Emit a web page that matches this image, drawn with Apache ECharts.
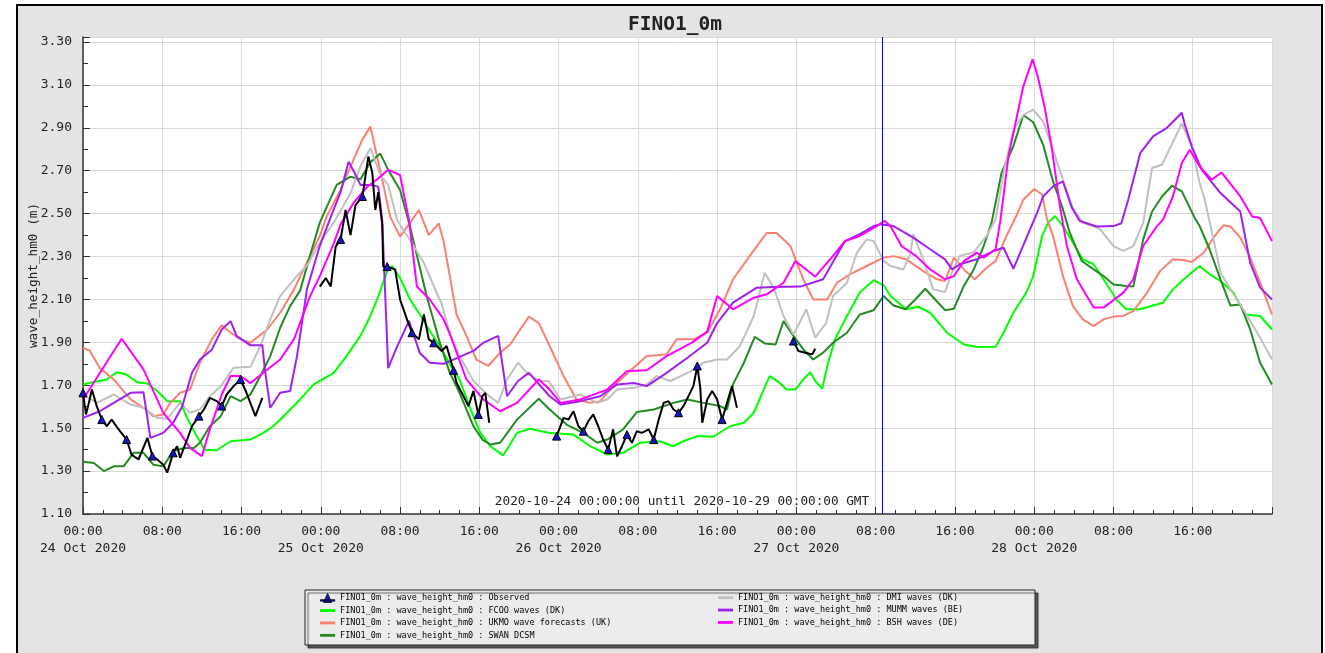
<!DOCTYPE html>
<html><head><meta charset="utf-8">
<script src="https://cdn.jsdelivr.net/npm/echarts@6/dist/echarts.min.js"></script>
<style>html,body{margin:0;padding:0;background:#fff}#c{width:1325px;height:653px}</style>
</head><body><div id="c"></div>
<script>
// ---- data: [hours since 2020-10-24 00:00 GMT, wave height (m)] ----
const dayLabels = ['24 Oct 2020','25 Oct 2020','26 Oct 2020','27 Oct 2020','28 Oct 2020','29 Oct 2020'];
const prefix = 'FINO1_0m : wave_height_hm0 : ';
const nowHour = 80.67;

const observed = [[0,1.665],[0.3,1.564],[0.6,1.62],[0.9,1.68],[1.4,1.60],[1.9,1.54],[2.4,1.51],[2.9,1.54],[3.6,1.494],[4.4,1.447],[4.9,1.377],[5.6,1.354],[6.5,1.455],[7,1.37],[7.5,1.354],[8.1,1.33],[8.5,1.293],[9.1,1.385],[9.5,1.416],[9.8,1.362],[10.5,1.447],[11,1.509],[11.7,1.556],[12.2,1.587],[12.8,1.641],[13.5,1.626],[14,1.603],[14.5,1.657],[15.2,1.696],[15.9,1.727],[16.5,1.665],[17.4,1.556],[18.1,1.641],
 [20,null],
 [23.9,2.16],[24.5,2.2],[25,2.16],[25.5,2.346],[26,2.38],[26.5,2.517],[27,2.40],[27.5,2.54],[28.2,2.58],[28.8,2.766],[29.2,2.69],[29.5,2.517],[29.8,2.6],[30.2,2.45],[30.3,2.253],[30.7,2.253],[31.5,2.24],[32,2.1],[32.7,2.007],[33.2,1.945],[33.9,1.914],[34.4,2.03],[34.9,1.914],[35.4,1.898],[36.2,1.86],[36.7,1.883],[37.4,1.77],[37.7,1.711],[38.4,1.649],[38.9,1.603],[39.4,1.673],[39.9,1.564],[40.3,1.649],[40.6,1.665],[41,1.525],
 [44,null],
 [47.8,1.463],[48.5,1.548],[49,1.54],[49.5,1.579],[50,1.509],[50.5,1.486],[51,1.533],[51.5,1.564],[52,1.509],[52.5,1.447],[53,1.40],[53.5,1.494],[53.9,1.369],[54.4,1.416],[54.9,1.47],[55.4,1.432],[55.9,1.486],[56.4,1.478],[57.1,1.494],[57.6,1.447],[58.1,1.54],[58.6,1.618],[59.1,1.626],[59.6,1.587],[60.1,1.572],[60.6,1.603],[61.1,1.649],[61.6,1.696],[62,1.79],[62.3,1.688],[62.5,1.525],[63,1.634],[63.5,1.673],[64,1.634],[64.5,1.54],[65,1.618],[65.5,1.696],[66,1.595],
 [69,null],
 [71.7,1.906],[72.2,1.86],[72.9,1.852],[73.6,1.844],[73.9,1.87]];
const observedMarkerHours = [0,1.9,4.4,7,9.1,11.7,14,15.9,26,28.2,30.7,33.2,35.4,37.4,39.9,47.8,50.5,53,54.9,57.6,60.1,62,64.5,71.7];

const fcoo = [[0,1.704],[1.1,1.715],[2.4,1.727],[3.4,1.761],[4.4,1.75],[5.4,1.715],[6.5,1.708],[7.5,1.673],[8.5,1.626],[9.8,1.626],[10.5,1.548],[11.3,1.478],[12.3,1.40],[13.5,1.397],[14.9,1.439],[16.9,1.447],[18.2,1.478],[19.2,1.509],[20.6,1.572],[21.9,1.634],[23.3,1.704],[25.3,1.758],[26.6,1.836],[28,1.93],[29,2.023],[29.8,2.113],[30.7,2.233],[31.2,2.256],[32,2.20],[33,2.10],[34,2.03],[35,1.953],[36,1.883],[37,1.80],[38,1.727],[39,1.603],[40.1,1.478],[41.1,1.416],[42.4,1.373],[43.8,1.478],[45.1,1.497],[47.1,1.478],[49.5,1.47],[51.2,1.416],[52.9,1.377],[54.5,1.385],[56.2,1.432],[58.2,1.439],[59.6,1.416],[60.6,1.439],[62,1.463],[63.6,1.46],[65.3,1.509],[66.7,1.525],[67.7,1.572],[68.7,1.68],[69.3,1.743],[70.2,1.715],[71,1.68],[71.9,1.68],[72.7,1.727],[73.4,1.761],[73.9,1.72],[74.6,1.684],[75.2,1.805],[75.9,1.914],[77.1,2.023],[78.4,2.132],[79.8,2.19],[80.8,2.166],[81.5,2.116],[83.1,2.054],[84.3,2.066],[85.5,2.038],[87.2,1.945],[88.9,1.89],[90.2,1.878],[92.1,1.88],[92.9,1.945],[93.9,2.038],[95.2,2.132],[95.9,2.209],[96.8,2.396],[97.4,2.458],[98.1,2.489],[98.9,2.442],[99.9,2.365],[100.9,2.287],[102,2.264],[103,2.194],[104.3,2.10],[105.3,2.054],[106.7,2.054],[108,2.072],[109,2.085],[110,2.147],[111.1,2.194],[112.7,2.256],[113.7,2.217],[114.8,2.186],[116.1,2.132],[117.3,2.03],[118.8,2.023],[120,1.96]];

const ukmo = [[0,1.875],[0.7,1.86],[1.7,1.78],[3.1,1.727],[4.8,1.634],[6.1,1.595],[7.1,1.556],[8.1,1.564],[8.8,1.618],[9.8,1.665],[10.8,1.68],[11.8,1.805],[13,1.914],[14,1.98],[14.9,1.945],[15.9,1.914],[16.9,1.898],[18.6,1.96],[19.9,2.038],[21.3,2.147],[22.6,2.272],[23.9,2.396],[24.6,2.487],[26,2.612],[27.3,2.752],[28.2,2.845],[29,2.906],[30,2.70],[31,2.486],[32,2.393],[33.2,2.47],[33.9,2.517],[34.9,2.40],[35.9,2.455],[36.4,2.37],[37.4,2.11],[37.7,2.03],[38.7,1.93],[39.7,1.82],[40.9,1.79],[42.1,1.852],[43.1,1.89],[45,2.02],[46,1.99],[47.1,1.883],[48.5,1.743],[49.8,1.634],[51.2,1.618],[52.2,1.626],[53.5,1.696],[55.2,1.766],[56.9,1.836],[58.9,1.844],[59.9,1.914],[61.6,1.914],[63,1.945],[64.3,2.054],[65.6,2.194],[67.3,2.303],[69,2.41],[70,2.41],[71.4,2.349],[72.7,2.194],[73.7,2.10],[75.1,2.10],[76.1,2.178],[77.4,2.217],[79.1,2.256],[80.8,2.295],[81.8,2.302],[83.1,2.287],[84.8,2.232],[86.2,2.194],[87,2.186],[87.9,2.295],[88.9,2.24],[90,2.194],[91.2,2.248],[92.1,2.279],[93.2,2.396],[94.2,2.49],[94.9,2.565],[96,2.615],[96.8,2.589],[97.3,2.472],[97.9,2.396],[98.9,2.209],[99.9,2.07],[100.9,2.007],[102,1.976],[103,2.007],[104,2.02],[105,2.023],[106,2.046],[107.4,2.132],[108.7,2.232],[110,2.287],[111.1,2.284],[111.9,2.275],[113.1,2.318],[114.1,2.388],[115.1,2.446],[115.8,2.44],[116.8,2.388],[117.8,2.295],[118.8,2.178],[120,2.03]];

const swan = [[0,1.343],[1.1,1.338],[2.1,1.30],[3.1,1.322],[4.1,1.322],[5.1,1.385],[6.1,1.385],[7.1,1.33],[8.1,1.322],[9.1,1.393],[10.2,1.408],[11.2,1.408],[11.8,1.432],[12.8,1.509],[13.9,1.556],[14.9,1.649],[15.9,1.626],[16.9,1.657],[17.9,1.743],[18.9,1.836],[19.9,1.968],[20.9,2.069],[21.9,2.14],[22.9,2.303],[23.9,2.458],[25.6,2.634],[27,2.672],[28,2.66],[29,2.74],[30,2.78],[30.8,2.704],[32,2.61],[33,2.44],[34.7,2.113],[35.4,2.0],[36,1.9],[37,1.76],[38,1.665],[39.4,1.51],[40.3,1.447],[41.1,1.424],[42.1,1.432],[43.8,1.54],[46,1.637],[47.1,1.587],[48.8,1.517],[50.5,1.478],[51.9,1.432],[52.9,1.447],[54.5,1.494],[55.9,1.575],[57.6,1.587],[59.6,1.618],[61,1.634],[62.6,1.618],[64.3,1.603],[65,1.587],[65.6,1.704],[66.7,1.805],[67.8,1.926],[68.8,1.895],[69.9,1.89],[70.7,1.999],[71.7,1.93],[72.7,1.867],[73.7,1.82],[74.7,1.852],[75.7,1.898],[77.1,1.945],[78.4,2.03],[79.8,2.05],[80.8,2.116],[81.8,2.072],[83,2.054],[84,2.10],[85,2.15],[86,2.10],[87,2.05],[87.9,2.057],[88.9,2.163],[89.9,2.24],[90.9,2.349],[91.7,2.458],[92.7,2.69],[93.9,2.814],[94.9,2.96],[95.9,2.926],[96.9,2.822],[97.9,2.65],[98.8,2.535],[99.6,2.41],[100.8,2.279],[102,2.24],[103,2.209],[104,2.17],[105.3,2.163],[106,2.16],[107,2.38],[107.9,2.51],[108.9,2.58],[109.9,2.63],[110.9,2.604],[112.2,2.48],[112.7,2.442],[113.7,2.334],[114.8,2.194],[115.8,2.072],[116.8,2.077],[117.8,1.96],[118.8,1.805],[120,1.704]];

const dmi = [[0,1.657],[1.4,1.618],[3.1,1.657],[4.8,1.61],[6.1,1.595],[7.5,1.548],[8.5,1.544],[9.8,1.618],[10.8,1.572],[11.8,1.587],[12.8,1.649],[13.9,1.696],[15.2,1.782],[16.9,1.786],[17.9,1.883],[18.9,2.007],[19.9,2.116],[21.3,2.194],[22.7,2.264],[23.9,2.365],[25.3,2.458],[27,2.596],[28,2.72],[29,2.805],[30,2.68],[30.8,2.634],[31.7,2.47],[33,2.377],[34.4,2.27],[35.7,2.13],[36.2,2.08],[37,1.945],[38,1.836],[39.4,1.72],[40.8,1.657],[41.9,1.618],[42.8,1.727],[43.9,1.805],[44.8,1.758],[46.1,1.72],[47,1.72],[48.2,1.634],[50.2,1.657],[51.9,1.618],[52.9,1.634],[53.9,1.68],[55.6,1.688],[56.9,1.704],[57.9,1.743],[59.3,1.72],[61,1.758],[62,1.78],[62.6,1.805],[64,1.82],[65,1.82],[66.3,1.883],[67.7,2.023],[68.8,2.225],[69.7,2.155],[70.7,2.023],[71.7,1.937],[73,2.054],[73.9,1.922],[75,1.99],[75.7,2.116],[77.1,2.178],[78.1,2.318],[79.1,2.38],[79.8,2.372],[80.8,2.28],[81.5,2.256],[82.8,2.24],[83.5,2.311],[83.8,2.404],[84.8,2.287],[85.8,2.147],[87,2.135],[87.7,2.225],[88.5,2.303],[89.9,2.32],[91.2,2.396],[92.1,2.474],[92.9,2.69],[93.9,2.891],[94.9,2.96],[95.9,2.985],[96.9,2.93],[97.9,2.798],[98.9,2.658],[99.9,2.526],[100.9,2.458],[102.6,2.43],[104,2.349],[105,2.326],[106,2.349],[107,2.458],[107.9,2.713],[108.9,2.728],[110.9,2.92],[111.9,2.814],[112.7,2.643],[113.2,2.567],[114.1,2.38],[114.8,2.225],[116.1,2.124],[117.1,2.054],[118.8,1.922],[120,1.82]];

const mumm = [[0,1.548],[1.7,1.579],[2.8,1.61],[4.8,1.665],[6.1,1.668],[6.8,1.455],[8.1,1.478],[9.1,1.525],[10,1.60],[11,1.758],[11.8,1.82],[13,1.866],[14,1.96],[14.9,1.999],[15.5,1.93],[16.9,1.886],[18.1,1.886],[18.4,1.758],[18.9,1.595],[19.9,1.665],[20.9,1.673],[21.6,1.836],[22.6,2.147],[23.9,2.35],[25.3,2.52],[26,2.6],[26.8,2.742],[27.3,2.70],[28,2.634],[29,2.634],[29.8,2.626],[30.2,2.47],[30.8,1.78],[31.7,1.88],[32.9,2.0],[34,1.85],[35,1.805],[36.4,1.80],[39.4,1.86],[40.4,1.898],[41.9,1.93],[42.8,1.649],[43.9,1.72],[45,1.758],[47.1,1.649],[48.2,1.61],[50.2,1.626],[52.2,1.649],[53.9,1.704],[55.6,1.711],[56.9,1.696],[58.9,1.758],[61,1.828],[63,1.898],[64,1.99],[65.6,2.085],[68,2.155],[69.7,2.158],[72.4,2.16],[74.7,2.194],[76.9,2.372],[78.4,2.404],[79.8,2.442],[80.45,2.45],[81.8,2.442],[83.8,2.388],[85.5,2.334],[87,2.287],[87.7,2.24],[88.5,2.264],[90.2,2.287],[91.9,2.326],[92.9,2.341],[93.9,2.243],[95.3,2.396],[96.3,2.505],[96.9,2.58],[97.9,2.627],[98.9,2.65],[99.8,2.527],[100.6,2.466],[102.3,2.44],[104,2.442],[104.8,2.455],[105.5,2.567],[106.7,2.782],[108,2.86],[109.4,2.9],[110.9,2.97],[111.2,2.915],[111.9,2.814],[112.9,2.705],[114.8,2.596],[116.8,2.51],[117.8,2.27],[118.8,2.155],[120,2.10]];

const bsh = [[0,1.634],[3.9,1.917],[6.1,1.774],[8.1,1.571],[9.8,1.478],[10.8,1.408],[12,1.37],[12.8,1.494],[14,1.657],[14.9,1.743],[15.9,1.743],[16.9,1.71],[18.2,1.758],[19.9,1.82],[21.3,1.915],[22.9,2.113],[23.9,2.209],[25.3,2.36],[26,2.45],[27.3,2.55],[28.7,2.626],[29.7,2.66],[30.8,2.704],[32,2.68],[32.9,2.47],[33.7,2.16],[35,2.10],[36.4,2.007],[37.1,1.93],[38.7,1.727],[40.4,1.634],[42.1,1.579],[43.8,1.618],[46,1.727],[47.1,1.68],[48.2,1.618],[50.2,1.634],[52.9,1.68],[54.9,1.766],[56.9,1.77],[58.9,1.836],[61.5,1.90],[63,1.95],[64,2.116],[65.6,2.054],[67.7,2.108],[69,2.124],[70.7,2.178],[71.9,2.279],[73.9,2.206],[75.7,2.303],[76.9,2.372],[78.4,2.396],[80.1,2.442],[80.9,2.466],[81.5,2.442],[82.6,2.349],[84.1,2.302],[85.5,2.24],[87,2.194],[87.9,2.209],[88.9,2.279],[90.2,2.318],[90.9,2.295],[92.1,2.334],[92.6,2.472],[93.4,2.767],[94.1,2.92],[94.9,3.093],[95.85,3.22],[96.4,3.132],[97.1,2.985],[97.8,2.798],[98.6,2.534],[99.3,2.349],[100.3,2.194],[102,2.062],[103,2.062],[105,2.132],[106,2.194],[107,2.349],[108.4,2.442],[109,2.472],[110,2.58],[110.9,2.736],[111.7,2.798],[112.7,2.72],[113.9,2.658],[114.9,2.692],[116.8,2.58],[118,2.487],[118.8,2.48],[120,2.372]];

// ---- chart ----
const mono = 'DejaVu Sans Mono';
const chart = echarts.init(document.getElementById('c'));
const markerSet = new Set(observedMarkerHours);
const line = (name, data, color) => ({
  name: prefix + name, type: 'line', data, symbol: 'none', showSymbol: false,
  lineStyle: {color, width: 2}, itemStyle: {color}, emphasis: {disabled: true}, animation: false
});
const lineIcon = 'path://M0,0 L16,0 L16,3 L0,3 Z';
const obsIcon = 'path://M0,7 L16,7 L16,8.6 L0,8.6 Z M8,0 L12.5,10 L3.5,10 Z';
const legendText = {fontFamily: mono, fontSize: 8.5, color: '#000', lineHeight: 9.3};

chart.setOption({
  backgroundColor: '#ffffff',
  animation: false,
  title: [
    {text: 'FINO1_0m', left: 670, top: 10, textAlign: 'center',
     textStyle: {fontFamily: mono, fontWeight: 'bold', fontSize: 19.5, color: '#222'}},
    {text: '2020-10-24 00:00:00 until 2020-10-29 00:00:00 GMT', left: 677, top: 490, textAlign: 'center',
     textStyle: {fontFamily: mono, fontWeight: 'normal', fontSize: 12.7, color: '#222'}}
  ],
  graphic: [
    {type: 'rect', z: -100, silent: true, shape: {x: 17, y: 5, width: 1305, height: 700},
     style: {fill: '#e4e4e4', stroke: '#000', lineWidth: 2}},
    {type: 'rect', z: -90, silent: true, shape: {x: 305, y: 590, width: 730, height: 55},
     style: {fill: '#ececec', stroke: '#222', lineWidth: 1, shadowColor: 'rgba(0,0,0,0.6)', shadowOffsetX: 3, shadowOffsetY: 3, shadowBlur: 1}}
  ],
  grid: {left: 83, right: 53, top: 37, bottom: 139, show: true, backgroundColor: '#ffffff', borderWidth: 0},
  legend: [
    {orient: 'vertical', left: 315, top: 588, itemWidth: 15, itemHeight: 9, itemGap: 3.1, selectedMode: false,
     textStyle: legendText,
     data: [
       {name: prefix + 'Observed', icon: obsIcon, itemStyle: {color: '#1414c8', borderColor: '#000', borderWidth: 0.8}},
       {name: prefix + 'FCOO waves (DK)', icon: lineIcon},
       {name: prefix + 'UKMO wave forecasts (UK)', icon: lineIcon},
       {name: prefix + 'SWAN DCSM', icon: lineIcon}]},
    {orient: 'vertical', left: 713, top: 588, itemWidth: 15, itemHeight: 9, itemGap: 3.1, selectedMode: false,
     textStyle: legendText,
     data: [
       {name: prefix + 'DMI waves (DK)', icon: lineIcon},
       {name: prefix + 'MUMM waves (BE)', icon: lineIcon},
       {name: prefix + 'BSH waves (DE)', icon: lineIcon}]}
  ],
  xAxis: {
    type: 'value', min: 0, max: 120, interval: 8,
    axisLine: {lineStyle: {color: '#333', width: 1.5}},
    axisTick: {inside: true, length: 7, lineStyle: {color: '#333'}},
    minorTick: {show: true, splitNumber: 4, length: 4, lineStyle: {color: '#333'}},
    splitLine: {show: true, lineStyle: {color: '#d9d9d9', width: 1}},
    axisLabel: {
      showMaxLabel: false, margin: 9, lineHeight: 17, fontFamily: mono, fontSize: 13, color: '#222',
      formatter: v => {
        const h = Math.round(v), hh = h % 24;
        const s = String(hh).padStart(2, '0') + ':00';
        return hh === 0 ? s + '\n' + dayLabels[h / 24] : s;
      }
    }
  },
  yAxis: {
    type: 'value', min: 1.1, max: 3.3233, interval: 0.2,
    name: 'wave_height_hm0 (m)', nameLocation: 'middle', nameRotate: 90, nameGap: 43, nameMoveOverlap: false,
    nameTextStyle: {fontFamily: mono, fontSize: 12.7, color: '#222'},
    axisLine: {show: true, lineStyle: {color: '#333', width: 1.5}},
    axisTick: {show: true, inside: true, length: 7, lineStyle: {color: '#333'}},
    minorTick: {show: true, splitNumber: 2, length: 5, lineStyle: {color: '#333'}},
    splitLine: {show: true, lineStyle: {color: '#d9d9d9', width: 1}},
    axisLabel: {showMaxLabel: false, margin: 11, fontFamily: mono, fontSize: 13, color: '#222',
      formatter: v => v.toFixed(2)}
  },
  series: [
    line('FCOO waves (DK)', fcoo, '#00ff00'),
    line('UKMO wave forecasts (UK)', ukmo, '#fa8072'),
    line('SWAN DCSM', swan, '#228b22'),
    line('DMI waves (DK)', dmi, '#c0c0c0'),
    line('MUMM waves (BE)', mumm, '#a020f0'),
    line('BSH waves (DE)', bsh, '#ff00ff'),
    {
      name: prefix + 'Observed', type: 'line', data: observed, connectNulls: false,
      showSymbol: true, symbolSize: 8,
      symbol: (val) => markerSet.has(val[0]) ? 'triangle' : 'none',
      lineStyle: {color: '#000', width: 2},
      itemStyle: {color: '#1414c8', borderColor: '#000', borderWidth: 1},
      emphasis: {disabled: true}, animation: false, z: 5,
      markLine: {silent: true, symbol: 'none', animation: false,
        label: {show: false},
        lineStyle: {color: '#0000ff', width: 1, type: 'solid'},
        emphasis: {disabled: true},
        data: [{xAxis: nowHour}]}
    }
  ]
});
</script></body></html>
